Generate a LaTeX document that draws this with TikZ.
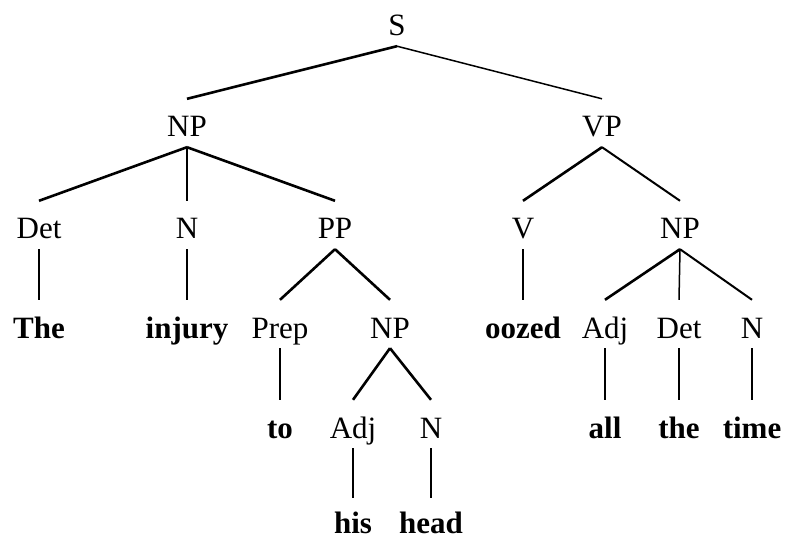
\documentclass[tikz,border=0pt]{standalone}
\usepackage{fontspec}
\setmainfont{Liberation Serif}
\begin{document}
\begin{tikzpicture}[x=1bp,y=-1bp,
  lab/.style={inner sep=0pt, text height=38bp, text depth=10bp, anchor=base,
    font=\fontsize{31bp}{36bp}\selectfont},
  word/.style={lab, text depth=0bp, font=\fontsize{31bp}{36bp}\selectfont\bfseries},
  thick/.style={line width=2.6bp},
  mid/.style={line width=2bp},
  thin/.style={line width=1.5bp}]
\useasboundingbox (0,0) rectangle (785,541);
% level 0
\node[lab] (S) at (397,36) {S};
% level 1
\node[lab] (NP1) at (187,137) {NP};
\node[lab] (VP) at (602,137) {VP};
% level 2
\node[lab] (Det1) at (39,239) {Det};
\node[lab] (N1) at (187,239) {N};
\node[lab] (PP) at (335,239) {PP};
\node[lab] (V) at (523,239) {V};
\node[lab] (NP2) at (680,239) {NP};
% level 3
\node[word] (The) at (39,338) {The};
\node[word] (injury) at (187,338) {injury};
\node[lab] (Prep) at (280,338) {Prep};
\node[lab] (NP3) at (390,338) {NP};
\node[word] (oozed) at (523,338) {oozed};
\node[lab] (Adj2) at (605,338) {Adj};
\node[lab] (Det2) at (679,338) {Det};
\node[lab] (N3) at (752,338) {N};
% level 4
\node[word] (to) at (280,438) {to};
\node[lab] (Adj1) at (353,438) {Adj};
\node[lab] (N2) at (431,438) {N};
\node[word] (all) at (605,438) {all};
\node[word] (the) at (679,438) {the};
\node[word] (time) at (752,438) {time};
% level 5
\node[word, text height=35bp] (his) at (353,533) {his};
\node[word, text height=35bp] (head) at (431,533) {head};
% edges
\draw[thick] (S.south) -- (NP1.north);
\draw[thin] (S.south) -- (VP.north);
\draw[thick] (NP1.south) -- (Det1.north);
\draw[thin] (NP1.south) -- (N1.north);
\draw[thick] (NP1.south) -- (PP.north);
\draw[thick] (VP.south) -- (V.north);
\draw[mid] (VP.south) -- (NP2.north);
\draw[thin] (Det1.south) -- (The.north);
\draw[thin] (N1.south) -- (injury.north);
\draw[thick] (PP.south) -- (Prep.north);
\draw[thick] (PP.south) -- (NP3.north);
\draw[thin] (V.south) -- (oozed.north);
\draw[thick] (NP2.south) -- (Adj2.north);
\draw[thin] (NP2.south) -- (Det2.north);
\draw[mid] (NP2.south) -- (N3.north);
\draw[thin] (Prep.south) -- (to.north);
\draw[thick] (NP3.south) -- (Adj1.north);
\draw[thick] (NP3.south) -- (N2.north);
\draw[thin] (Adj2.south) -- (all.north);
\draw[thin] (Det2.south) -- (the.north);
\draw[thin] (N3.south) -- (time.north);
\draw[thin] (Adj1.south) -- (his.north);
\draw[thin] (N2.south) -- (head.north);
\end{tikzpicture}
\end{document}
